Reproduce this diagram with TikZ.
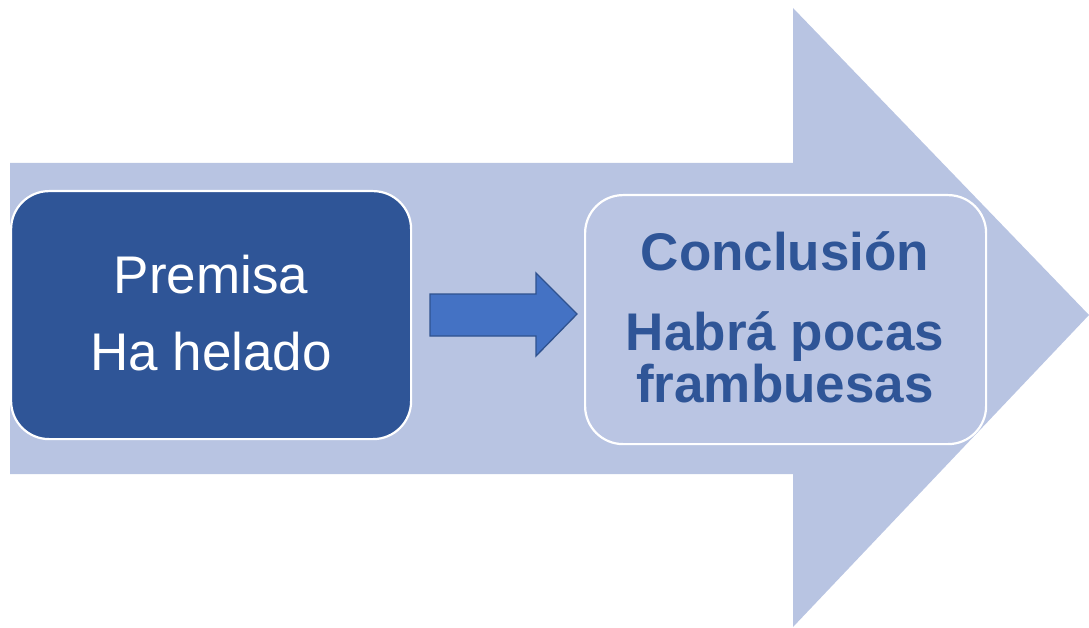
\documentclass[tikz,border=0pt]{standalone}
\usepackage{fontspec}
\setmainfont{Liberation Sans}
\definecolor{arrowlight}{HTML}{B8C4E2}
\definecolor{boxlight}{HTML}{BAC5E3}
\definecolor{darkblue}{HTML}{2F5597}
\definecolor{midblue}{HTML}{4472C4}
\definecolor{edgeblue}{HTML}{2F528F}
\tikzset{
  bigtext/.style={font=\fontsize{53}{60}\selectfont, anchor=base, inner sep=0pt},
  boldtext/.style={bigtext, text=darkblue, font=\fontsize{53}{60}\selectfont\bfseries},
  box/.style={rounded corners=38pt, draw=white, line width=2.2pt, inner sep=0pt, anchor=north west},
}
\begin{document}
\begin{tikzpicture}[x=1pt,y=-1pt]
\useasboundingbox (0,0) rectangle (1089,628);
% big background arrow
\fill[arrowlight] (10,163) -- (793,163) -- (793,8) -- (1089,315) -- (793,627) -- (793,474) -- (10,474) -- cycle;
% boxes
\node[box, fill=darkblue, minimum width=400pt, minimum height=248pt] (premisa) at (10,190) {};
\node[box, fill=boxlight, minimum width=401pt, minimum height=249pt] (conclusion) at (584,194) {};
% small arrow
\filldraw[fill=midblue, draw=edgeblue, line width=1.3pt, line join=miter]
  (430,294) -- (536,294) -- (536,273) -- (577,314) -- (536,356) -- (536,336) -- (430,336) -- cycle;
% texts
\node[bigtext, text=white] (t1) at (211,293) {Premisa};
\node[bigtext, text=white] (t2) at (211,370) {Ha helado};
\node[boldtext] (t3) at (785,270) {Conclusión};
\node[boldtext] (t4) at (785,350) {Habrá pocas};
\node[boldtext] (t5) at (785,402) {frambuesas};
\end{tikzpicture}
\end{document}
